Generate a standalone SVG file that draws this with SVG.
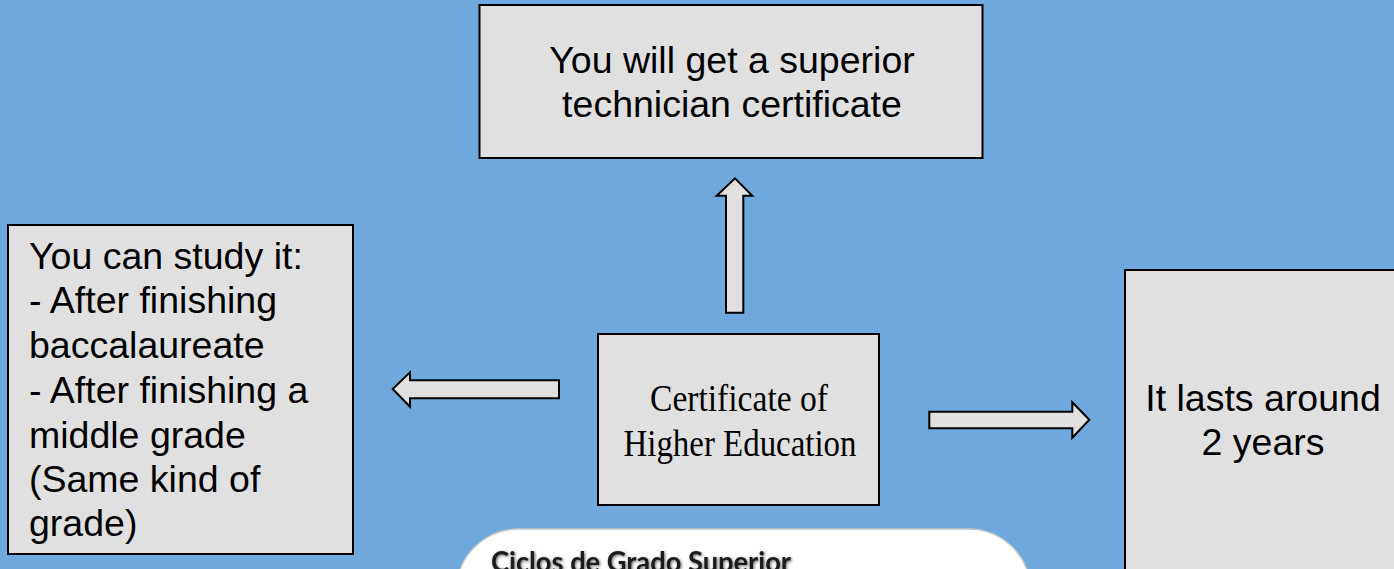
<svg xmlns="http://www.w3.org/2000/svg" width="1394" height="569" viewBox="0 0 1394 569">
  <style>
    .box { fill: #e0e0e0; stroke: #000; stroke-width: 2; }
    .arrow { fill: #e0e0e0; stroke: #000; stroke-width: 2; stroke-linejoin: miter; }
    .sans { font-family: "Liberation Sans", Arial, sans-serif; font-size: 37.5px; fill: #000; }
    .serif { font-family: "Liberation Serif", "Times New Roman", serif; font-size: 37px; fill: #000; }
    .title { font-family: Lato, "Open Sans", sans-serif; font-size: 28px; font-weight: 700; fill: #1a1a1a; }
  </style>
  <defs>
    <filter id="textShadow" x="-10%" y="-50%" width="120%" height="200%">
      <feGaussianBlur in="SourceAlpha" stdDeviation="1.5"/>
      <feOffset dx="1" dy="1" result="b"/>
      <feFlood flood-color="#555" flood-opacity="0.9"/>
      <feComposite in2="b" operator="in"/>
      <feMerge><feMergeNode/><feMergeNode in="SourceGraphic"/></feMerge>
    </filter>
  </defs>
  <rect x="0" y="0" width="1394" height="569" fill="#6fa8dc"/>

  <g id="connectors">
    <path class="arrow" d="M726,312.7 L726,195.7 L716.7,195.7 L735,178.3 L752.3,195.7 L743.3,195.7 L743.3,312.7 Z"/>
    <path class="arrow" d="M559,380.3 L410,380.3 L410,372.3 L392.7,389 L410,406.7 L410,398.3 L559,398.3 Z"/>
    <path class="arrow" d="M929.3,411.7 L1072.3,411.7 L1072.3,402.3 L1089.3,419.7 L1072.3,437.7 L1072.3,428.3 L929.3,428.3 Z"/>
  </g>

  <g id="node-top">
    <rect class="box" x="479.5" y="5" width="503" height="153"/>
    <text class="sans" x="732" y="73" text-anchor="middle">You will get a superior</text>
    <text class="sans" x="732" y="117" text-anchor="middle">technician certificate</text>
  </g>

  <g id="node-left">
    <rect class="box" x="8" y="225" width="345" height="329"/>
    <text class="sans" x="29" y="269">You can study it:</text>
    <text class="sans" x="29" y="313">- After finishing</text>
    <text class="sans" x="29" y="358">baccalaureate</text>
    <text class="sans" x="29" y="403">- After finishing a</text>
    <text class="sans" x="29" y="448">middle grade</text>
    <text class="sans" x="29" y="492">(Same kind of</text>
    <text class="sans" x="29" y="536">grade)</text>
  </g>

  <g id="node-center">
    <rect class="box" x="598" y="334" width="281" height="171"/>
    <text class="serif" x="739" y="411" text-anchor="middle" textLength="178" lengthAdjust="spacingAndGlyphs">Certificate of</text>
    <text class="serif" x="740" y="456" text-anchor="middle" textLength="233" lengthAdjust="spacingAndGlyphs">Higher Education</text>
  </g>

  <g id="node-right">
    <rect class="box" x="1125" y="270" width="300" height="330"/>
    <text class="sans" x="1263" y="411" text-anchor="middle">It lasts around</text>
    <text class="sans" x="1263" y="455" text-anchor="middle">2 years</text>
  </g>

  <g id="node-bottom">
    <rect x="457" y="529" width="573" height="120" rx="62" ry="62" fill="#ffffff" stroke="#c8c8c8" stroke-width="1.5"/>
    <text class="title" x="491" y="572" textLength="300" lengthAdjust="spacingAndGlyphs" filter="url(#textShadow)">Ciclos de Grado Superior</text>
  </g>
</svg>
